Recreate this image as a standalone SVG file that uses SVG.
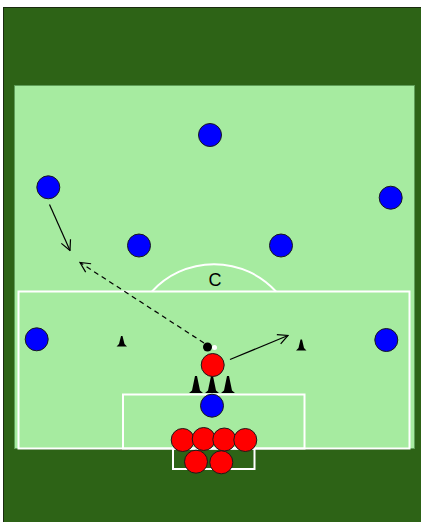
<svg xmlns="http://www.w3.org/2000/svg" width="421" height="522" viewBox="0 0 421 522">
<defs>
<style>
.blue{fill:#0000ff;stroke:#1a1a1a;stroke-width:1}
.red{fill:#ff0000;stroke:#1a1a1a;stroke-width:1}
.line{fill:none;stroke:#ffffff;stroke-width:2}
.cone{fill:#000000}
.arrow{fill:none;stroke:#000000;stroke-width:1.2}
.dash{stroke-dasharray:5,4}
</style>
<marker id="ah" viewBox="0 0 12 12" refX="11" refY="6" markerWidth="12" markerHeight="12" markerUnits="userSpaceOnUse" orient="auto">
<path d="M1,1 L11,6 L1,11" fill="none" stroke="#000" stroke-width="1.2"/>
</marker>
</defs>
<rect x="0" y="0" width="421" height="522" fill="#ffffff"/>
<rect x="3.5" y="7.5" width="420" height="520" fill="#2d6316" stroke="#1a2a10" stroke-width="1"/>
<g id="field">
<rect x="14.5" y="85.5" width="400" height="363" fill="#a6eba0" stroke="#5f9e58" stroke-width="1"/>
<rect class="line" x="18.5" y="291.5" width="391" height="157"/>
<rect class="line" x="123" y="394.5" width="181.5" height="54"/>
<rect class="line" x="173" y="448.5" width="81.5" height="20.5"/>
<path class="line" d="M152,291.5 A84,84 0 0 1 276,291.5"/>
<text x="215" y="286" font-family="Liberation Sans, Arial, sans-serif" font-size="18" text-anchor="middle" fill="#000">C</text>
</g>
<g id="connectors">
<line class="arrow" x1="49.5" y1="204.5" x2="70" y2="250.5" marker-end="url(#ah)"/>
<line class="arrow dash" x1="204" y1="343" x2="80" y2="262.5" marker-end="url(#ah)"/>
<line class="arrow" x1="230" y1="359.5" x2="288" y2="335.5" marker-end="url(#ah)"/>
</g>
<g id="cones">
<path class="cone" d="M116.5,346.5 L119,344 L121,336 L122.5,336 L124.5,344 L127,346.5 Z"/>
<path class="cone" d="M296,350.5 L298.5,348 L300.5,339.5 L302,339.5 L304,348 L306.5,350.5 Z"/>
<path class="cone" d="M189,393 L192,390.5 L195,376 L197,376 L200,390.5 L203,393 Z"/>
<path class="cone" d="M205,393 L208,390.5 L211,376 L213,376 L216,390.5 L219,393 Z"/>
<path class="cone" d="M221,393 L224,390.5 L227,376 L229,376 L232,390.5 L235,393 Z"/>
</g>
<g id="ball">
<circle cx="214.5" cy="347.5" r="2.5" fill="#ffffff"/>
<circle cx="207.5" cy="347" r="4.5" fill="#000000"/>
</g>
<g id="blue-players">
<circle id="b1" class="blue" cx="210" cy="135" r="11.5"/>
<circle id="b2" class="blue" cx="48.3" cy="187.3" r="11.5"/>
<circle id="b3" class="blue" cx="390.7" cy="197.7" r="11.5"/>
<circle id="b4" class="blue" cx="139" cy="245.5" r="11.5"/>
<circle id="b5" class="blue" cx="281" cy="245.5" r="11.5"/>
<circle id="b6" class="blue" cx="36.7" cy="339.3" r="11.5"/>
<circle id="b7" class="blue" cx="386.3" cy="340" r="11.5"/>
<circle id="b8" class="blue" cx="212" cy="405.7" r="11.5"/>
</g>
<g id="red-players">
<circle id="r1" class="red" cx="212.7" cy="365" r="11.5"/>
<circle id="r2" class="red" cx="182.7" cy="440" r="11.5"/>
<circle id="r3" class="red" cx="203.7" cy="439" r="11.5"/>
<circle id="r4" class="red" cx="224.3" cy="439.5" r="11.5"/>
<circle id="r5" class="red" cx="245.3" cy="440" r="11.5"/>
<circle id="r6" class="red" cx="196" cy="461.7" r="11.5"/>
<circle id="r7" class="red" cx="221.3" cy="462.3" r="11.5"/>
</g>
</svg>
